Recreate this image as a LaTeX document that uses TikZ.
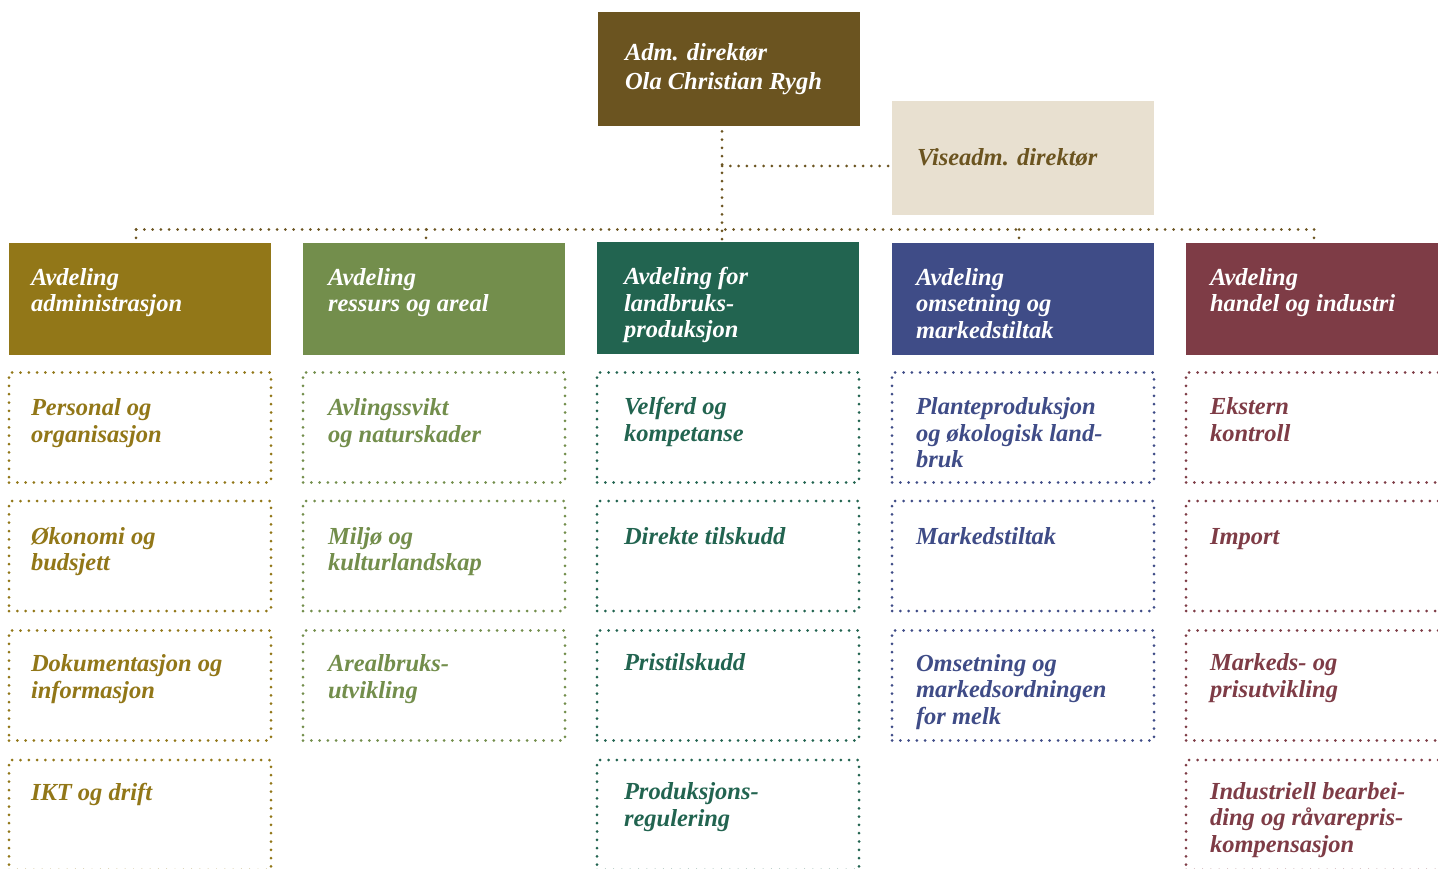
\documentclass[tikz,border=0pt]{standalone}
\usepackage{fontspec}
\setmainfont{Liberation Serif}
\definecolor{admc}{HTML}{6B5420}
\definecolor{visec}{HTML}{E8E0D0}
\definecolor{ca}{HTML}{927718}
\definecolor{cb}{HTML}{738E4C}
\definecolor{cc}{HTML}{226450}
\definecolor{cd}{HTML}{3F4C87}
\definecolor{ce}{HTML}{7E3C46}
\newcommand{\lblfont}{\fontsize{24.5pt}{26.5pt}\selectfont\bfseries\itshape}
\newcommand{\admfont}{\fontsize{24.5pt}{28.5pt}\selectfont\bfseries\itshape}
\tikzset{
  dotln/.style={line width=3pt, line cap=round, dash pattern=on 0pt off 8.3pt},
  hdrbox/.style={rectangle, anchor=north west, minimum width=262pt, minimum height=112pt, inner sep=0pt, outer sep=0pt},
  subbox/.style={rectangle, anchor=north west, minimum width=262pt, minimum height=110pt, inner sep=0pt, outer sep=0pt, dotln},
  lbl/.style={anchor=north west, inner sep=0pt, outer sep=0pt, align=left, font=\lblfont, execute at begin node={\rule{0pt}{17pt}}},
}
\begin{document}
\begin{tikzpicture}[x=1pt,y={(0pt,-1pt)}]
\useasboundingbox (0,0) rectangle (1438,869);
\clip (0,0) rectangle (1438,869);
% top
\node[hdrbox, fill=admc, minimum height=114pt] (adm) at (598,12) {};
\node[lbl, text=white, font=\admfont] (admt) at (625,44) {Adm. direktør\\Ola Christian Rygh};
\node[hdrbox, fill=visec, minimum height=114pt] (vise) at (892,101) {};
\node[lbl, text=admc] (viset) at (917,149) {Viseadm. direktør};
% headers
\node[hdrbox, fill=ca] (h1) at (9,243) {};
\node[hdrbox, fill=cb] (h2) at (303,243) {};
\node[hdrbox, fill=cc] (h3) at (597,242) {};
\node[hdrbox, fill=cd] (h4) at (892,243) {};
\node[hdrbox, fill=ce] (h5) at (1186,243) {};
\node[lbl, text=white] (h1t) at (31,268) {Avdeling\\administrasjon};
\node[lbl, text=white] (h2t) at (328,268) {Avdeling\\ressurs og areal};
\node[lbl, text=white] (h3t) at (624,267.5) {Avdeling for\\landbruks-\\produksjon};
\node[lbl, text=white] (h4t) at (916,268) {Avdeling\\omsetning og\\markedstiltak};
\node[lbl, text=white] (h5t) at (1210,268) {Avdeling\\handel og industri};
% column 1
\node[subbox, draw=ca] (s11) at (9,372.5) {};
\node[subbox, draw=ca] (s12) at (9,501) {};
\node[subbox, draw=ca] (s13) at (9,630.5) {};
\node[subbox, draw=ca] (s14) at (9,760) {};
\node[lbl, text=ca] (s11t) at (31,398.5) {Personal og\\organisasjon};
\node[lbl, text=ca] (s12t) at (31,527) {Økonomi og\\budsjett};
\node[lbl, text=ca] (s13t) at (31,654.5) {Dokumentasjon og\\informasjon};
\node[lbl, text=ca] (s14t) at (31,783.5) {IKT og drift};
% column 2
\node[subbox, draw=cb] (s21) at (303,372.5) {};
\node[subbox, draw=cb] (s22) at (303,501) {};
\node[subbox, draw=cb] (s23) at (303,630.5) {};
\node[lbl, text=cb] (s21t) at (328,398.5) {Avlingssvikt\\og naturskader};
\node[lbl, text=cb] (s22t) at (328,527) {Miljø og\\kulturlandskap};
\node[lbl, text=cb] (s23t) at (328,654.5) {Arealbruks-\\utvikling};
% column 3
\node[subbox, draw=cc] (s31) at (597,372.5) {};
\node[subbox, draw=cc] (s32) at (597,501) {};
\node[subbox, draw=cc] (s33) at (597,630.5) {};
\node[subbox, draw=cc] (s34) at (597,760) {};
\node[lbl, text=cc] (s31t) at (624,397.5) {Velferd og\\kompetanse};
\node[lbl, text=cc] (s32t) at (624,527) {Direkte tilskudd};
\node[lbl, text=cc] (s33t) at (624,653.5) {Pristilskudd};
\node[lbl, text=cc] (s34t) at (624,782.5) {Produksjons-\\regulering};
% column 4
\node[subbox, draw=cd] (s41) at (892,372.5) {};
\node[subbox, draw=cd] (s42) at (892,501) {};
\node[subbox, draw=cd] (s43) at (892,630.5) {};
\node[lbl, text=cd] (s41t) at (916,397.5) {Planteproduksjon\\og økologisk land-\\bruk};
\node[lbl, text=cd] (s42t) at (916,527) {Markedstiltak};
\node[lbl, text=cd] (s43t) at (916,654) {Omsetning og\\markedsordningen\\for melk};
% column 5
\node[subbox, draw=ce] (s51) at (1186,372.5) {};
\node[subbox, draw=ce] (s52) at (1186,501) {};
\node[subbox, draw=ce] (s53) at (1186,630.5) {};
\node[subbox, draw=ce] (s54) at (1186,760) {};
\node[lbl, text=ce] (s51t) at (1210,397.5) {Ekstern\\kontroll};
\node[lbl, text=ce] (s52t) at (1210,527) {Import};
\node[lbl, text=ce] (s53t) at (1210,653.5) {Markeds- og\\prisutvikling};
\node[lbl, text=ce] (s54t) at (1210,782) {Industriell bearbei-\\ding og råvarepris-\\kompensasjon};
% connectors
\coordinate (b1) at (136,229.5);
\coordinate (b2) at (426,229.5);
\coordinate (b3) at (722,229.5);
\coordinate (b4) at (1019,229.5);
\coordinate (b5) at (1314,229.5);
\coordinate (vj) at (888,166);
\draw[dotln, admc] (b1) -- (b5);
\draw[dotln, admc] (b1) -- (b1 |- h1.north);
\draw[dotln, admc] (b2) -- (b2 |- h2.north);
\draw[dotln, admc] (b4) -- (b4 |- h4.north);
\draw[dotln, admc] (b5) -- (b5 |- h5.north);
\draw[dotln, admc] ([yshift=3pt]b3 |- adm.south) -- (b3 |- h3.north);
\draw[dotln, admc] (b3 |- vj) -- (vj);
\end{tikzpicture}
\end{document}
